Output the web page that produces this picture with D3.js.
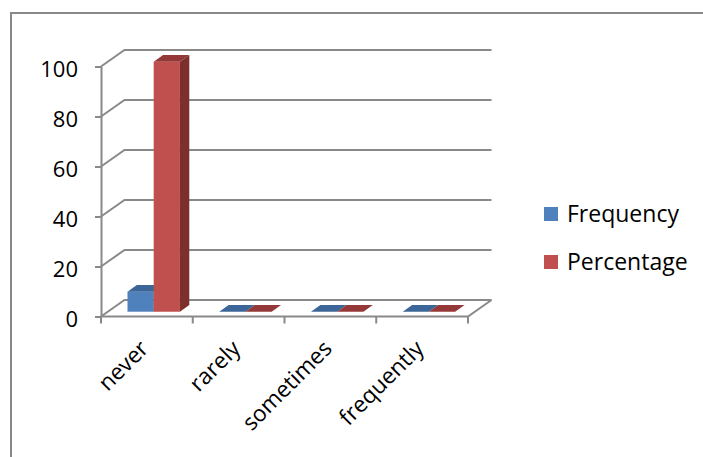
<!DOCTYPE html>
<html><head><meta charset="utf-8">
<script src="https://cdn.jsdelivr.net/npm/d3@7"></script>
<style>
html,body{margin:0;padding:0;background:#fff;}
svg{display:block;}
text{font-family:"Open Sans",sans-serif;fill:#000;}
</style></head>
<body>
<script>
const categories = ["never", "rarely", "sometimes", "frequently"];
const seriesNames = ["Frequency", "Percentage"];
const frequency = [8, 0, 0, 0];
const percentage = [100, 0, 0, 0];
const yTicks = [0, 20, 40, 60, 80, 100];
const colors = {
  Frequency: {front: "#4F81BD", top: "#3B6697", side: "#355B88"},
  Percentage: {front: "#C0504D", top: "#943937", side: "#7D2F2D"}
};

const W = 703, H = 457;
const DX = 23.5, DY = 16.5;   // depth projection
const D0 = 0.29, D1 = 0.69;   // bar depth span
const gridColor = "#898989";

const svg = d3.select("body").append("svg").attr("width", W).attr("height", H);

// outer frame
svg.append("rect").attr("x", 11).attr("y", 13).attr("width", 800).attr("height", 800)
  .attr("fill", "none").attr("stroke", "#898989").attr("stroke-width", 2);

const x = d3.scaleBand().domain(categories).range([101, 468]);
const y = d3.scaleLinear().domain([0, 100]).range([316.5, 66.5]);
const xs = d3.scaleBand().domain(seriesNames).range([0, x.bandwidth()]).paddingInner(0).paddingOuter(0.75);

const P = (px, v, d) => [px + d * DX, y(v) - d * DY];
const poly = pts => "M" + pts.map(p => p[0].toFixed(2) + "," + p[1].toFixed(2)).join("L") + "Z";

// gridlines (side wall diagonals + back wall horizontals)
const gridG = svg.append("g");
yTicks.forEach(t => {
  gridG.append("path")
    .attr("d", "M" + P(x.range()[0], t, 0) + "L" + P(x.range()[0], t, 1) + "L" + P(x.range()[1], t, 1))
    .attr("fill", "none").attr("stroke", gridColor).attr("stroke-width", 2);
});
// floor front and right edge
gridG.append("path")
  .attr("d", "M" + P(x.range()[0], 0, 0) + "L" + P(x.range()[1], 0, 0) + "L" + P(x.range()[1], 0, 1))
  .attr("fill", "none").attr("stroke", gridColor).attr("stroke-width", 2);

// category tick marks
const catBounds = categories.map(c => x(c)).concat([x.range()[1]]);
catBounds.forEach(b => {
  gridG.append("line").attr("x1", b).attr("x2", b).attr("y1", y(0)).attr("y2", y(0) + 7)
    .attr("stroke", gridColor).attr("stroke-width", 2);
});

// y axis
const yAxis = d3.axisLeft(y).tickValues(yTicks).tickSize(6).tickSizeOuter(0).tickPadding(17);
const yg = svg.append("g").attr("transform", `translate(${x.range()[0]},0)`).call(yAxis);
yg.select(".domain").attr("stroke", gridColor).attr("stroke-width", 2);
yg.selectAll(".tick line").attr("stroke", gridColor).attr("stroke-width", 2);
yg.selectAll(".tick text").attr("font-size", 22).attr("font-family", '"Open Sans",sans-serif')
  .attr("fill", "#000").attr("dy", "0.45em");

// bars
const data = [frequency, percentage];
const barsG = svg.append("g");
categories.forEach((c, ci) => {
  seriesNames.forEach((s, si) => {
    const v = data[si][ci];
    const x0 = x(c) + xs(s), x1 = x0 + xs.bandwidth();
    const col = colors[s];
    if (v > 0) {
      barsG.append("path").attr("d", poly([P(x0, v, D0), P(x1, v, D0), P(x1, 0, D0), P(x0, 0, D0)])).attr("fill", col.front);
      barsG.append("path").attr("d", poly([P(x1, v, D0), P(x1, v, D1), P(x1, 0, D1), P(x1, 0, D0)])).attr("fill", col.side);
    }
    barsG.append("path").attr("d", poly([P(x0, v, D0), P(x1, v, D0), P(x1, v, D1), P(x0, v, D1)])).attr("fill", col.top);
  });
});

// x labels
svg.append("g").selectAll("text").data(categories).join("text")
  .attr("transform", d => `translate(${x(d) + x.bandwidth() / 2 + 3},350) rotate(-45)`)
  .attr("text-anchor", "end").attr("font-size", 22.5).text(d => d);

// legend
const lg = svg.append("g");
seriesNames.forEach((s, i) => {
  const yy = 207 + i * 48;
  lg.append("rect").attr("x", 544).attr("y", yy).attr("width", 14).attr("height", 14).attr("fill", colors[s].front);
  lg.append("text").attr("x", 567).attr("y", yy + 15).attr("font-size", 23).text(s);
});
</script>
</body></html>
